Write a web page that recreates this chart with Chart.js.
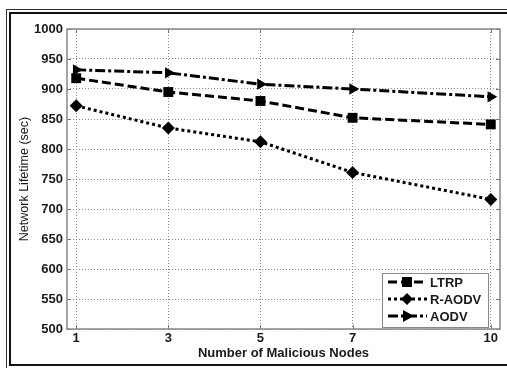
<!DOCTYPE html>
<html lang="en">
<head>
  <meta charset="UTF-8">
  <title>Network Lifetime vs Malicious Nodes</title>
  <script src="https://cdn.jsdelivr.net/npm/chart.js@4.4.0/dist/chart.umd.min.js"></script>
  <style>
    html, body { margin: 0; padding: 0; background: #fff; }
    body { width: 507px; height: 368px; overflow: hidden; position: relative; }
    .frame1 { position: absolute; left: 6px; top: 9px; width: 530px; height: 380px; border: 1px solid #333; }
    .frame2 { position: absolute; left: 9px; top: 12px; width: 530px; height: 350px; border: 2px solid #111; }
    #wrap { position: absolute; left: 0; top: 0; width: 507px; height: 368px; }
  </style>
</head>
<body>
  <div class="frame1"></div>
  <div class="frame2"></div>
  <div id="wrap"><canvas id="lifetime"></canvas></div>
  <script>
    // values
    const nodes = [1, 3, 5, 7, 10];
    const ltrp = [918, 895, 880, 852, 841];
    const raodv = [872, 835, 812, 761, 716];
    const aodv = [932, 927, 908, 900, 887];
    const yMin = 500, yMax = 1000, yStep = 50;

    const seriesNames = ['LTRP', 'R-AODV', 'AODV'];
    const dashes = [[9, 4], [3, 3], [10, 3, 3, 3]];
    const markers = ['rect', 'rectRot', 'triangle'];

    const pts = arr => arr.map((v, i) => ({ x: nodes[i], y: v }));
    const font = 'Arial, "Liberation Sans", sans-serif';

    // plot box, matlab style inward ticks, legend inside the axes
    const boxPlugin = {
      id: 'boxPlugin',
      afterDraw(chart) {
        const ctx = chart.ctx;
        const a = chart.chartArea;
        const xs = chart.scales.x, ys = chart.scales.y;
        ctx.save();
        ctx.strokeStyle = '#777';
        ctx.lineWidth = 1;
        ctx.setLineDash([]);
        ctx.beginPath();
        xs.ticks.forEach(t => {
          const px = Math.round(xs.getPixelForValue(t.value)) + 0.5;
          ctx.moveTo(px, a.bottom); ctx.lineTo(px, a.bottom - 4);
          ctx.moveTo(px, a.top); ctx.lineTo(px, a.top + 4);
        });
        ys.ticks.forEach(t => {
          const py = Math.round(ys.getPixelForValue(t.value)) + 0.5;
          ctx.moveTo(a.left, py); ctx.lineTo(a.left + 4, py);
          ctx.moveTo(a.right, py); ctx.lineTo(a.right - 4, py);
        });
        ctx.stroke();
        ctx.lineWidth = 1.5;
        ctx.strokeStyle = '#888';
        ctx.strokeRect(a.left, a.top, a.right - a.left, a.bottom - a.top);

        // legend
        const lx = 382, ly = 273, lw = 106, lh = 54;
        ctx.fillStyle = '#fff';
        ctx.fillRect(lx, ly, lw, lh);
        ctx.lineWidth = 1;
        ctx.strokeStyle = '#888';
        ctx.strokeRect(lx + 0.5, ly + 0.5, lw, lh);
        seriesNames.forEach((name, i) => {
          const y = ly + 9 + i * 17;
          ctx.strokeStyle = '#000';
          ctx.lineWidth = 3;
          ctx.setLineDash(dashes[i]);
          ctx.beginPath();
          ctx.moveTo(388, y); ctx.lineTo(427, y);
          ctx.stroke();
          ctx.setLineDash([]);
          ctx.fillStyle = '#000';
          const mx = 407;
          ctx.beginPath();
          if (i === 0) {
            ctx.rect(mx - 5, y - 5, 10, 10);
          } else if (i === 1) {
            ctx.moveTo(mx, y - 6); ctx.lineTo(mx + 6, y); ctx.lineTo(mx, y + 6); ctx.lineTo(mx - 6, y);
          } else {
            ctx.moveTo(mx + 7, y); ctx.lineTo(mx - 4, y - 6); ctx.lineTo(mx - 4, y + 6);
          }
          ctx.closePath();
          ctx.fill();
          ctx.fillStyle = '#1a1a1a';
          ctx.font = 'bold 13px ' + font;
          ctx.textBaseline = 'middle';
          ctx.textAlign = 'left';
          ctx.fillText(name, 430, y + 1);
        });
        ctx.restore();
      }
    };

    const ctx = document.getElementById('lifetime').getContext('2d');
    const chart = new Chart(ctx, {
      type: 'line',
      data: {
        datasets: [ltrp, raodv, aodv].map((arr, i) => ({
          label: seriesNames[i],
          data: pts(arr),
          borderColor: '#000',
          backgroundColor: '#000',
          borderWidth: 3,
          borderDash: dashes[i],
          pointStyle: markers[i],
          pointRotation: i === 2 ? 90 : 0,
          pointRadius: i === 0 ? 7 : 6.5,
          pointBorderWidth: 0,
          tension: 0,
          fill: false
        }))
      },
      options: {
        responsive: true,
        maintainAspectRatio: false,
        animation: false,
        layout: { padding: { top: 29, right: 7, left: 0, bottom: 0 } },
        plugins: {
          legend: { display: false },
          tooltip: { enabled: false }
        },
        scales: {
          x: {
            type: 'linear',
            min: 0.8,
            max: 10.2,
            afterBuildTicks: s => { s.ticks = nodes.map(v => ({ value: v })); },
            afterFit: s => { s.height = 39; },
            ticks: {
              padding: 2,
              color: '#1a1a1a',
              font: { family: font, size: 13, weight: 'bold' },
              callback: v => String(v)
            },
            grid: { color: '#8a8a8a', lineWidth: 1, drawTicks: false },
            border: { display: false, dash: [1, 2] },
            title: {
              display: true,
              text: 'Number of Malicious Nodes',
              color: '#1a1a1a',
              font: { family: font, size: 13, weight: 'bold' },
              padding: { top: 0, bottom: 7 }
            }
          },
          y: {
            min: yMin,
            max: yMax,
            afterFit: s => { s.width = 67; },
            ticks: {
              stepSize: yStep,
              padding: 4,
              color: '#1a1a1a',
              font: { family: font, size: 13, weight: 'bold' },
              callback: v => String(v)
            },
            grid: { color: '#8a8a8a', lineWidth: 1, drawTicks: false },
            border: { display: false, dash: [1, 2] },
            title: {
              display: true,
              text: 'Network Lifetime (sec)',
              color: '#1a1a1a',
              font: { family: font, size: 12.5 },
              padding: { top: 17, bottom: 0 }
            }
          }
        }
      },
      plugins: [boxPlugin]
    });
  </script>
</body>
</html>
